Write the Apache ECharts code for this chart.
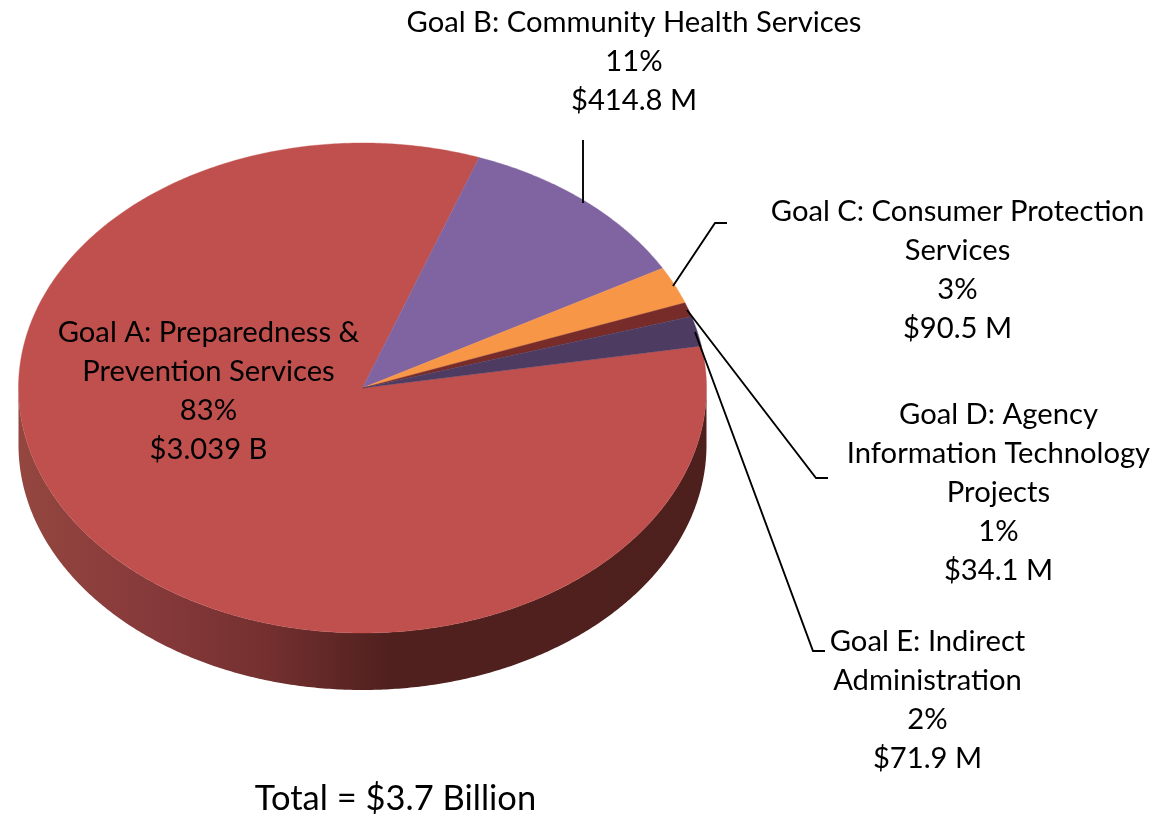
<!DOCTYPE html>
<html><head><meta charset="utf-8">
<style>html,body{margin:0;padding:0;background:#fff}#c{width:1161px;height:816px}</style>
<script src="https://cdn.jsdelivr.net/npm/echarts@6/dist/echarts.min.js"></script>
</head><body><div id="c"></div>
<script>
const goalNames = ['Goal A: Preparedness &\nPrevention Services','Goal B: Community Health Services','Goal C: Consumer Protection\nServices','Goal D: Agency\nInformation Technology\nProjects','Goal E: Indirect\nAdministration'];
const amounts = [3039, 414.8, 90.5, 34.1, 71.9];
const percentLabels = ['83%','11%','3%','1%','2%'];
const amountLabels = ['$3.039 B','$414.8 M','$90.5 M','$34.1 M','$71.9 M'];
const sliceColors = ['#c0504d','#8064a2','#f79646','#772c2a','#4d3b62'];
const totalLabel = 'Total = $3.7 Billion';

const FONT = 'Lato';
const CX = 362.5, CY = 388, RX = 344, RY = 245, DEPTH = 57, START_DEG = 9.9;
const labelPos = [[208.5,313.5],[634,3],[957.5,192.5],[998.5,395.5],[927.5,622.5]];
const leaders = [
  [[583,140],[583,203]],
  [[673,286],[715,223],[727,223]],
  [[687,310],[816,478],[828,478]],
  [[695,332],[813,651],[825,651]]
];
const total = amounts.reduce((a,b)=>a+b,0);
const pt = (deg,dy)=>[CX+RX*Math.cos(deg*Math.PI/180), CY+(dy||0)-RY*Math.sin(deg*Math.PI/180)];

function renderSlice(params, api){
  let before = 0;
  for(let i=0;i<params.dataIndex;i++) before += amounts[i];
  const a0 = START_DEG - before/total*360;
  const a1 = a0 - api.value(1)/total*360;
  const pts = [[CX,CY]];
  const n = Math.max(2,Math.ceil((a0-a1)*2));
  for(let i=0;i<=n;i++) pts.push(pt(a0+(a1-a0)*i/n));
  return {type:'polygon',shape:{points:pts},style:{fill:sliceColors[params.dataIndex],stroke:sliceColors[params.dataIndex],lineWidth:0.4}};
}
function renderWall(){
  const pts=[];
  for(let d=180;d<=360;d+=0.5) pts.push(pt(d,0));
  for(let d=360;d>=180;d-=0.5) pts.push(pt(d,DEPTH));
  return {type:'polygon',shape:{points:pts},style:{
    fill:new echarts.graphic.LinearGradient(0,0,1,0,[
      {offset:0,color:'#94463f'},{offset:0.2,color:'#86393a'},{offset:0.36,color:'#74302f'},
      {offset:0.43,color:'#652a29'},{offset:0.54,color:'#50201e'},{offset:1,color:'#4e201d'}])}};
}
const graphics = [];
goalNames.forEach((g,i)=>{
  graphics.push({type:'text',x:labelPos[i][0],y:labelPos[i][1],z:20,silent:true,
    style:{text:[g,percentLabels[i],amountLabels[i]].join('\n'),fontFamily:FONT,fontSize:29.2,lineHeight:39,fill:'#000',align:'center',verticalAlign:'top'}});
});
graphics.push({type:'text',x:395.5,y:779,z:20,style:{text:totalLabel,fontFamily:FONT,fontSize:34.5,lineHeight:40,fill:'#000',align:'center',verticalAlign:'top'}});
leaders.forEach(p=>graphics.push({type:'polyline',z:15,shape:{points:p},style:{stroke:'#000',lineWidth:1.9,fill:null}}));

const chart = echarts.init(document.getElementById('c'),null,{renderer:'canvas'});
chart.setOption({
  animation:false,
  backgroundColor:'#fff',
  series:[
    {type:'custom',coordinateSystem:'none',data:[[0]],renderItem:renderWall,silent:true,z:1},
    {type:'custom',coordinateSystem:'none',data:amounts.map((v,i)=>[i,v]),renderItem:renderSlice,encode:{value:1},silent:true,z:2}
  ],
  graphic:graphics
});
</script></body></html>
